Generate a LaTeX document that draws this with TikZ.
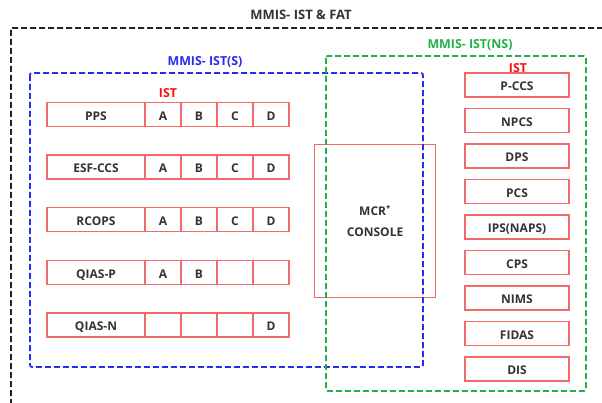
\documentclass[tikz,border=0pt]{standalone}
\usepackage{fontspec}
\setmainfont{Open Sans}
\definecolor{redbox}{HTML}{F06A6A}
\definecolor{redtxt}{HTML}{FF1010}
\definecolor{bluedash}{HTML}{2B2BF0}
\definecolor{greendash}{HTML}{22B04A}
\definecolor{txtgray}{HTML}{333333}
\definecolor{blackdash}{HTML}{222222}
\begin{document}
\begin{tikzpicture}[x=1pt,y=-1pt,
  lbl/.style={font=\bfseries\fontsize{12.4}{14}\selectfont, inner sep=0},
  cell/.style={draw=redbox, line width=1.2pt, minimum height=24pt, inner sep=0, outer sep=0,
    anchor=north west, font=\bfseries\fontsize{12}{14}\selectfont, text=txtgray,
    text height=11.8pt, text depth=0pt},
  namecell/.style={cell, minimum width=98pt},
  lettercell/.style={cell, minimum width=36pt},
  nsbox/.style={cell, minimum width=104pt},
  dashbox/.style={line width=1.8pt, dash pattern=on 6pt off 3pt, rounded corners=2pt}
]
\useasboundingbox (0,0) rectangle (602,403);
\clip (0,0) rectangle (602,403);
\fill[white] (0,0) rectangle (602,403);

% outer black dashed frame
\draw[dashbox, draw=blackdash] (11,28) rectangle (640,440);
\node[lbl, text=txtgray, font=\bfseries\fontsize{13}{15}\selectfont] (title) at (301,15) {MMIS- IST \& FAT};

% MCR console
\node[draw=redbox, line width=1.2pt, minimum width=121pt, minimum height=153pt, inner sep=0,
  anchor=north west, align=center, text=txtgray,
  font=\bfseries\fontsize{12}{21}\selectfont] (mcr) at (314,144) {MCR\textsuperscript{*}\\CONSOLE};

% left rows
\foreach \nm/\a/\b/\c/\d [count=\i from 0] in
  {PPS/A/B/C/D, ESF-CCS/A/B/C/D, RCOPS/A/B/C/D, QIAS-P/A/B/{}/{}, QIAS-N/{}/{}/{}/D}{
  \node[namecell] (row\i) at (47,{102.5+52.6*\i}) {\nm};
  \node[lettercell] (row\i a) at (row\i.north east) {\a};
  \node[lettercell] (row\i b) at (row\i a.north east) {\b};
  \node[lettercell] (row\i c) at (row\i b.north east) {\c};
  \node[lettercell] (row\i d) at (row\i c.north east) {\d};
}
\node[lbl, text=redtxt] (istS) at (168,93) {IST};

% right column
\foreach \nm [count=\i from 0] in {P-CCS,NPCS,DPS,PCS,IPS(NAPS),CPS,NIMS,FIDAS,DIS}{
  \node[nsbox] (ns\i) at (465,{73+35.5*\i}) {\nm};
}
\node[lbl, text=redtxt] (istNS) at (518,68) {IST};

% dashed group frames
\draw[dashbox, draw=bluedash] (30,73) rectangle (423,367);
\node[lbl, text=bluedash] (labS) at (205,62) {MMIS- IST(S)};
\draw[dashbox, draw=greendash] (326,56) rectangle (586,391);
\node[lbl, text=greendash] (labNS) at (470,45) {MMIS- IST(NS)};
\end{tikzpicture}
\end{document}
